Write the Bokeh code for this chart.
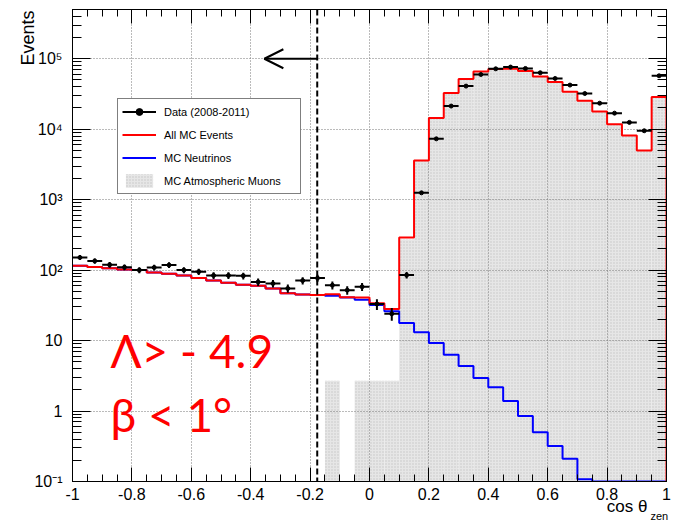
import numpy as np
from bokeh.plotting import figure
from bokeh.models import (ColumnDataSource, FixedTicker, LinearAxis, LogAxis, Span, Arrow,
                          OpenHead, Label, Legend, LegendItem, PrintfTickFormatter, Range1d, Title)
from bokeh.embed import file_html
from bokeh.resources import INLINE

# ---------------- data ----------------
bin_edges = np.round(np.linspace(-1.0, 1.0, 41), 3)

data_events = [151, 135, 119, 110, 100, 109, 118, 100, 95, 84,
               84, 83, 68, 64.5, 55, 71, 77, 61, 52, 58,
               33, 24, 85, 1250, 7300, 21300, 40900, 59800, 72000, 76200,
               72800, 63300, 52500, 42300, 32100, 23400, 16900, 12500, 9500, 57300]

all_mc = [115, 111, 106, 102, 100, 92.5, 89, 84, 77, 71,
          66, 62, 60, 55, 47, 45, 44.5, 45.4, 41.2, 41,
          34, 28, 290, 3600, 14400, 32600, 51400, 66000, 71300, 72000,
          66800, 56000, 46600, 34000, 25300, 17800, 11800, 8150, 4990, 28600]

mc_neutrinos = [115, 111, 106, 102, 100, 92.5, 89, 84, 77, 71,
                66, 62, 60, 55, 47, 45, 44.5, 43.4, 41.0, 38,
                32, 26, 17.8, 13.1, 9.25, 6.3, 4.35, 2.94, 2.17, 1.39,
                0.85, 0.50, 0.32, 0.21, 0.108, 0, 0, 0, 0, 0]

mc_muons = [0, 0, 0, 0, 0, 0, 0, 0, 0, 0,
            0, 0, 0, 0, 0, 0, 0, 2.7, 0, 2.7,
            2.7, 2.7, 272, 3590, 14390, 32590, 51400, 66000, 71300, 72000,
            66800, 56000, 46600, 34000, 25300, 17800, 11800, 8150, 4990, 28600]

x_ticks = [-1, -0.8, -0.6, -0.4, -0.2, 0, 0.2, 0.4, 0.6, 0.8, 1]
y_ticks = [0.1, 1, 10, 100, 1000, 10000, 100000]
y_tick_labels = ["10\u207b\u00b9", "1", "10", "10\u00b2", "10\u00b3", "10\u2074", "10\u2075"]

cut_cos = -0.176
arrow_tip = -0.354
arrow_level = 1e5

legend_labels = ["Data (2008-2011)", "All MC Events", "MC Neutrinos", "MC Atmospheric Muons"]

# ---------------- figure ----------------
Y_MIN, Y_MAX = 0.1, 5e5
FONT = "Liberation Sans"

p = figure(width=683, height=522, output_backend="svg", toolbar_location=None,
           x_range=Range1d(-1, 1), y_range=Range1d(Y_MIN, Y_MAX), y_axis_type="log",
           min_border_left=72, min_border_right=17, min_border_top=9, min_border_bottom=41,
           background_fill_color="white", border_fill_color="white")
p.outline_line_color = "black"
p.outline_line_width = 1

lo = bin_edges[:-1]
hi = bin_edges[1:]
ctr = (lo + hi) / 2

# muon fill (drawn beneath the grid)
mu = np.array(mc_muons, dtype=float)
mask = mu > 0
mu_src = ColumnDataSource(dict(left=lo[mask], right=hi[mask], top=mu[mask],
                               bottom=np.full(mask.sum(), Y_MIN)))
r_mu = p.quad(left="left", right="right", top="top", bottom="bottom", source=mu_src,
              fill_color="#e6e6e6", line_color=None, hatch_pattern=".",
              hatch_color="#c4c4c4", hatch_scale=3, hatch_weight=1, level="image")


def step_xy(vals, close_right):
    xs, ys = [], []
    for i, v in enumerate(vals):
        v = max(v, Y_MIN)
        xs += [bin_edges[i], bin_edges[i + 1]]
        ys += [v, v]
    if close_right:
        xs.append(bin_edges[-1])
        ys.append(Y_MIN)
    return xs, ys


bx, by = step_xy(mc_neutrinos, True)
r_nu = p.line(bx, by, line_color="#0000ff", line_width=2)
rx, ry = step_xy(all_mc, True)
r_mc = p.line(rx, ry, line_color="#ff0000", line_width=2)

d = np.array(data_events, dtype=float)
err = np.sqrt(d)
dsrc = ColumnDataSource(dict(lo=lo, hi=hi, x=ctr, y=d, ylo=d - err, yhi=d + err))
r_hbar = p.segment(x0="lo", x1="hi", y0="y", y1="y", source=dsrc, line_color="black", line_width=2)
p.segment(x0="x", x1="x", y0="ylo", y1="yhi", source=dsrc, line_color="black", line_width=2)
r_pts = p.scatter(x="x", y="y", source=dsrc, size=4, marker="circle",
                  fill_color="black", line_color="black")

# cut line and arrow
p.add_layout(Span(location=cut_cos, dimension="height", line_color="black",
                  line_width=2, line_dash="6 3"))
p.add_layout(Arrow(end=OpenHead(size=19, line_width=2, line_color="black"),
                   x_start=cut_cos, y_start=arrow_level, x_end=arrow_tip, y_end=arrow_level,
                   line_width=2, line_color="black"))

# ---------------- axes ----------------
x_minor = list(np.round(np.arange(-1.0, 1.0001, 0.05), 3))
y_minor = [m * 10.0 ** e for e in range(-1, 6) for m in range(2, 10) if m * 10.0 ** e <= Y_MAX]
xt = FixedTicker(ticks=x_ticks, minor_ticks=x_minor)
yt = FixedTicker(ticks=y_ticks, minor_ticks=y_minor)
overrides = {t: l for t, l in zip(y_ticks, y_tick_labels)}

xa = p.xaxis[0]
xa.ticker = xt
xa.formatter = PrintfTickFormatter(format="%g")
ya = p.yaxis[0]
ya.ticker = yt
ya.major_label_overrides = overrides

for ax, maj in ((xa, 14), (ya, 18)):
    ax.major_tick_in = maj
    ax.major_tick_out = 0
    ax.minor_tick_in = maj // 2
    ax.minor_tick_out = 0
    ax.axis_line_color = "black"
    ax.major_tick_line_color = "black"
    ax.minor_tick_line_color = "black"
    ax.major_label_text_font = FONT
    ax.major_label_text_font_size = "16px"
    ax.major_label_text_color = "black"
xa.major_label_standoff = 6
ya.major_label_standoff = 10

top = LinearAxis(ticker=FixedTicker(ticks=x_ticks, minor_ticks=x_minor),
                 major_label_overrides={t: "" for t in x_ticks}, major_label_standoff=0,
                 major_tick_in=14, major_tick_out=0, minor_tick_in=7, minor_tick_out=0)
right = LogAxis(ticker=FixedTicker(ticks=y_ticks, minor_ticks=y_minor),
                major_label_overrides={t: "" for t in y_ticks}, major_label_standoff=0,
                major_tick_in=18, major_tick_out=0, minor_tick_in=9, minor_tick_out=0)
p.add_layout(top, "above")
p.add_layout(right, "right")

for g in (p.xgrid[0], p.ygrid[0]):
    g.grid_line_color = "#777777"
    g.grid_line_dash = "1 2"
    g.grid_line_width = 1
p.xgrid[0].ticker = xt
p.ygrid[0].ticker = yt

# axis titles (side-panel titles, so they are not clipped by the frame)
p.add_layout(Title(text="Events", align="right", offset=1, standoff=-15,
                   vertical_align="middle",
                   text_font=FONT, text_font_size="18px", text_font_style="normal",
                   text_color="black"), "left")
p.add_layout(Title(text="cos \u03b8", align="right", offset=19, standoff=-15,
                   text_font=FONT, text_font_size="17px", text_font_style="normal",
                   text_color="black"), "below")
p.add_layout(Title(text="zen", align="left", offset=578, standoff=-1,
                   text_font=FONT, text_font_size="11px", text_font_style="normal",
                   text_color="black"), "below")

# red annotations
p.add_layout(Label(x=38, y=131, x_units="screen", y_units="screen", text="\u039b> - 4.9",
                   text_font="Lato", text_font_size="46px", text_color="#ff0000",
                   text_baseline="alphabetic"))
p.add_layout(Label(x=38, y=67, x_units="screen", y_units="screen", text="\u03b2 < 1\u00b0",
                   text_font="Lato", text_font_size="46px", text_color="#ff0000",
                   text_baseline="alphabetic"))

# legend
legend = Legend(items=[
    LegendItem(label=legend_labels[0], renderers=[r_hbar, r_pts]),
    LegendItem(label=legend_labels[1], renderers=[r_mc]),
    LegendItem(label=legend_labels[2], renderers=[r_nu]),
    LegendItem(label=legend_labels[3], renderers=[r_mu]),
], location=(45, 287))
legend.border_line_color = "black"
legend.border_line_width = 1
legend.background_fill_color = "white"
legend.background_fill_alpha = 1
legend.label_text_font = FONT
legend.label_text_font_size = "11px"
legend.label_text_color = "black"
legend.glyph_height = 17
legend.glyph_width = 34
legend.label_height = 17
legend.label_width = 132
legend.label_standoff = 8
legend.spacing = 6
legend.padding = 4
legend.margin = 0
p.add_layout(legend)

open("out.html", "w").write(file_html(p, INLINE))
